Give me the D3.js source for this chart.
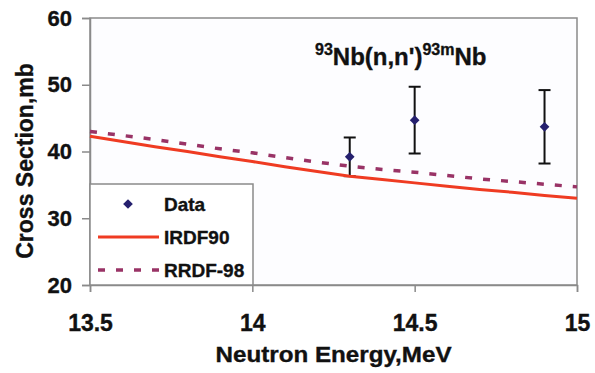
<!DOCTYPE html>
<html>
<head>
<meta charset="utf-8">
<script src="https://cdn.jsdelivr.net/npm/d3@7"></script>
<style>
  html, body { margin: 0; padding: 0; background: #ffffff; }
  svg { display: block; }
  text { font-family: "Liberation Sans", Arial, sans-serif; font-weight: bold; fill: #111; stroke: #111; stroke-width: 0.35px; }
</style>
</head>
<body>
<svg id="chart" width="595" height="373"></svg>
<script>
// Evaluated cross sections (mb) versus neutron energy (MeV)
const energies = [13.5, 13.6, 13.7, 13.8, 13.9, 14.0, 14.1, 14.2, 14.3, 14.4, 14.5, 14.6, 14.7, 14.8, 14.9, 15.0];
const irdf90   = [42.3, 41.5, 40.7, 40.0, 39.2, 38.5, 37.7, 37.0, 36.3, 35.8, 35.3, 34.8, 34.3, 33.9, 33.4, 33.0];
const rrdf98   = [43.0, 42.4, 41.8, 41.1, 40.4, 39.8, 39.1, 38.4, 37.8, 37.3, 36.9, 36.4, 35.9, 35.5, 35.1, 34.7];

// Measured points with uncertainties
const dataEnergy = [14.3, 14.5, 14.9];
const dataSigma  = [39.2, 44.7, 43.7];
const dataError  = [2.9, 5.0, 5.5];

const xTicks = [13.5, 14, 14.5, 15];
const yTicks = [20, 30, 40, 50, 60];
const seriesNames = ["Data", "IRDF90", "RRDF-98"];

const svg = d3.select("#chart");
const plot = { left: 90, right: 577, top: 18, bottom: 285 };

const x = d3.scaleLinear().domain([13.5, 15]).range([plot.left, plot.right]);
const y = d3.scaleLinear().domain([20, 60]).range([plot.bottom, plot.top]);

const axisColor = "#8a8a8a";
const redColor = "#ef3b22";
const dashColor = "#993366";
const markColor = "#25206e";

// Plot frame
svg.append("rect")
  .attr("x", plot.left).attr("y", plot.top)
  .attr("width", plot.right - plot.left).attr("height", plot.bottom - plot.top)
  .attr("fill", "#fdfdff").attr("stroke", axisColor).attr("stroke-width", 1.5);

// Axes
const xAxis = svg.append("g")
  .attr("transform", `translate(0,${plot.bottom})`)
  .call(d3.axisBottom(x).tickValues(xTicks).tickSize(7).tickPadding(23)
    .tickFormat(d3.format("")));
const yAxis = svg.append("g")
  .attr("transform", `translate(${plot.left},0)`)
  .call(d3.axisLeft(y).tickValues(yTicks).tickSize(8).tickPadding(10));

[xAxis, yAxis].forEach(g => {
  g.select(".domain").attr("stroke", axisColor).attr("stroke-width", 1.5);
  g.selectAll(".tick line").attr("stroke", axisColor).attr("stroke-width", 1.5);
  g.selectAll(".tick text")
    .attr("fill", "#111")
    .style("font-family", '"Liberation Sans", Arial, sans-serif')
    .style("font-weight", "bold");
});
xAxis.selectAll(".tick text").style("font-size", "23px");
yAxis.selectAll(".tick text").style("font-size", "22px");

// Error bars (drawn under the curves)
const capHalf = 6;
const err = svg.append("g").attr("stroke", "#111").attr("stroke-width", 2);
dataEnergy.forEach((e, i) => {
  const cx = x(e);
  const yTop = y(dataSigma[i] + dataError[i]);
  const yBot = y(dataSigma[i] - dataError[i]);
  err.append("line").attr("x1", cx).attr("x2", cx).attr("y1", yTop).attr("y2", yBot);
  err.append("line").attr("x1", cx - capHalf).attr("x2", cx + capHalf).attr("y1", yTop).attr("y2", yTop);
  err.append("line").attr("x1", cx - capHalf).attr("x2", cx + capHalf).attr("y1", yBot).attr("y2", yBot);
});

// Curves
const line = d3.line().x((d, i) => x(energies[i])).y(d => y(d));

svg.append("path")
  .datum(irdf90)
  .attr("d", line)
  .attr("fill", "none")
  .attr("stroke", redColor)
  .attr("stroke-width", 3);

svg.append("path")
  .datum(rrdf98)
  .attr("d", line)
  .attr("fill", "none")
  .attr("stroke", dashColor)
  .attr("stroke-width", 3.5)
  .attr("stroke-dasharray", "7,11");

// Data markers
const diamond = d3.symbol().type(d3.symbolDiamond2).size(60);
svg.append("g").selectAll("path")
  .data(dataEnergy)
  .join("path")
  .attr("d", diamond)
  .attr("transform", (d, i) => `translate(${x(d)},${y(dataSigma[i])})`)
  .attr("fill", markColor);

// Reaction label
const title = svg.append("text")
  .attr("x", 315).attr("y", 65)
  .style("font-size", "24px");
title.append("tspan").text("93").style("font-size", "16px").attr("dy", -10);
title.append("tspan").text("Nb(n,n')").attr("dy", 10);
title.append("tspan").text("93m").style("font-size", "16px").attr("dy", -10);
title.append("tspan").text("Nb").attr("dy", 10);

// Axis titles
svg.append("text")
  .attr("transform", `translate(${(plot.left + plot.right) / 2},362) scale(1.1,1)`)
  .attr("text-anchor", "middle")
  .style("font-size", "22px")
  .text("Neutron Energy,MeV");

svg.append("text")
  .attr("transform", "translate(33,161) rotate(-90)")
  .attr("text-anchor", "middle")
  .style("font-size", "23px")
  .text("Cross Section,mb");

// Legend
const legend = svg.append("g");
legend.append("rect")
  .attr("x", plot.left).attr("y", 184)
  .attr("width", 253 - plot.left).attr("height", plot.bottom - 184)
  .attr("fill", "#ffffff").attr("stroke", axisColor).attr("stroke-width", 1.5);

const rowY = [204, 237, 270];
legend.append("path")
  .attr("d", diamond)
  .attr("transform", `translate(128,${rowY[0]})`)
  .attr("fill", markColor);
legend.append("line")
  .attr("x1", 98).attr("x2", 159).attr("y1", rowY[1]).attr("y2", rowY[1])
  .attr("stroke", redColor).attr("stroke-width", 3);
legend.append("line")
  .attr("x1", 98).attr("x2", 159).attr("y1", rowY[2]).attr("y2", rowY[2])
  .attr("stroke", dashColor).attr("stroke-width", 3.5)
  .attr("stroke-dasharray", "7,11");

legend.selectAll("text.entry")
  .data(seriesNames)
  .join("text")
  .attr("class", "entry")
  .attr("x", 164)
  .attr("y", (d, i) => rowY[i] + 7)
  .style("font-size", "19px")
  .text(d => d);
</script>
</body>
</html>
